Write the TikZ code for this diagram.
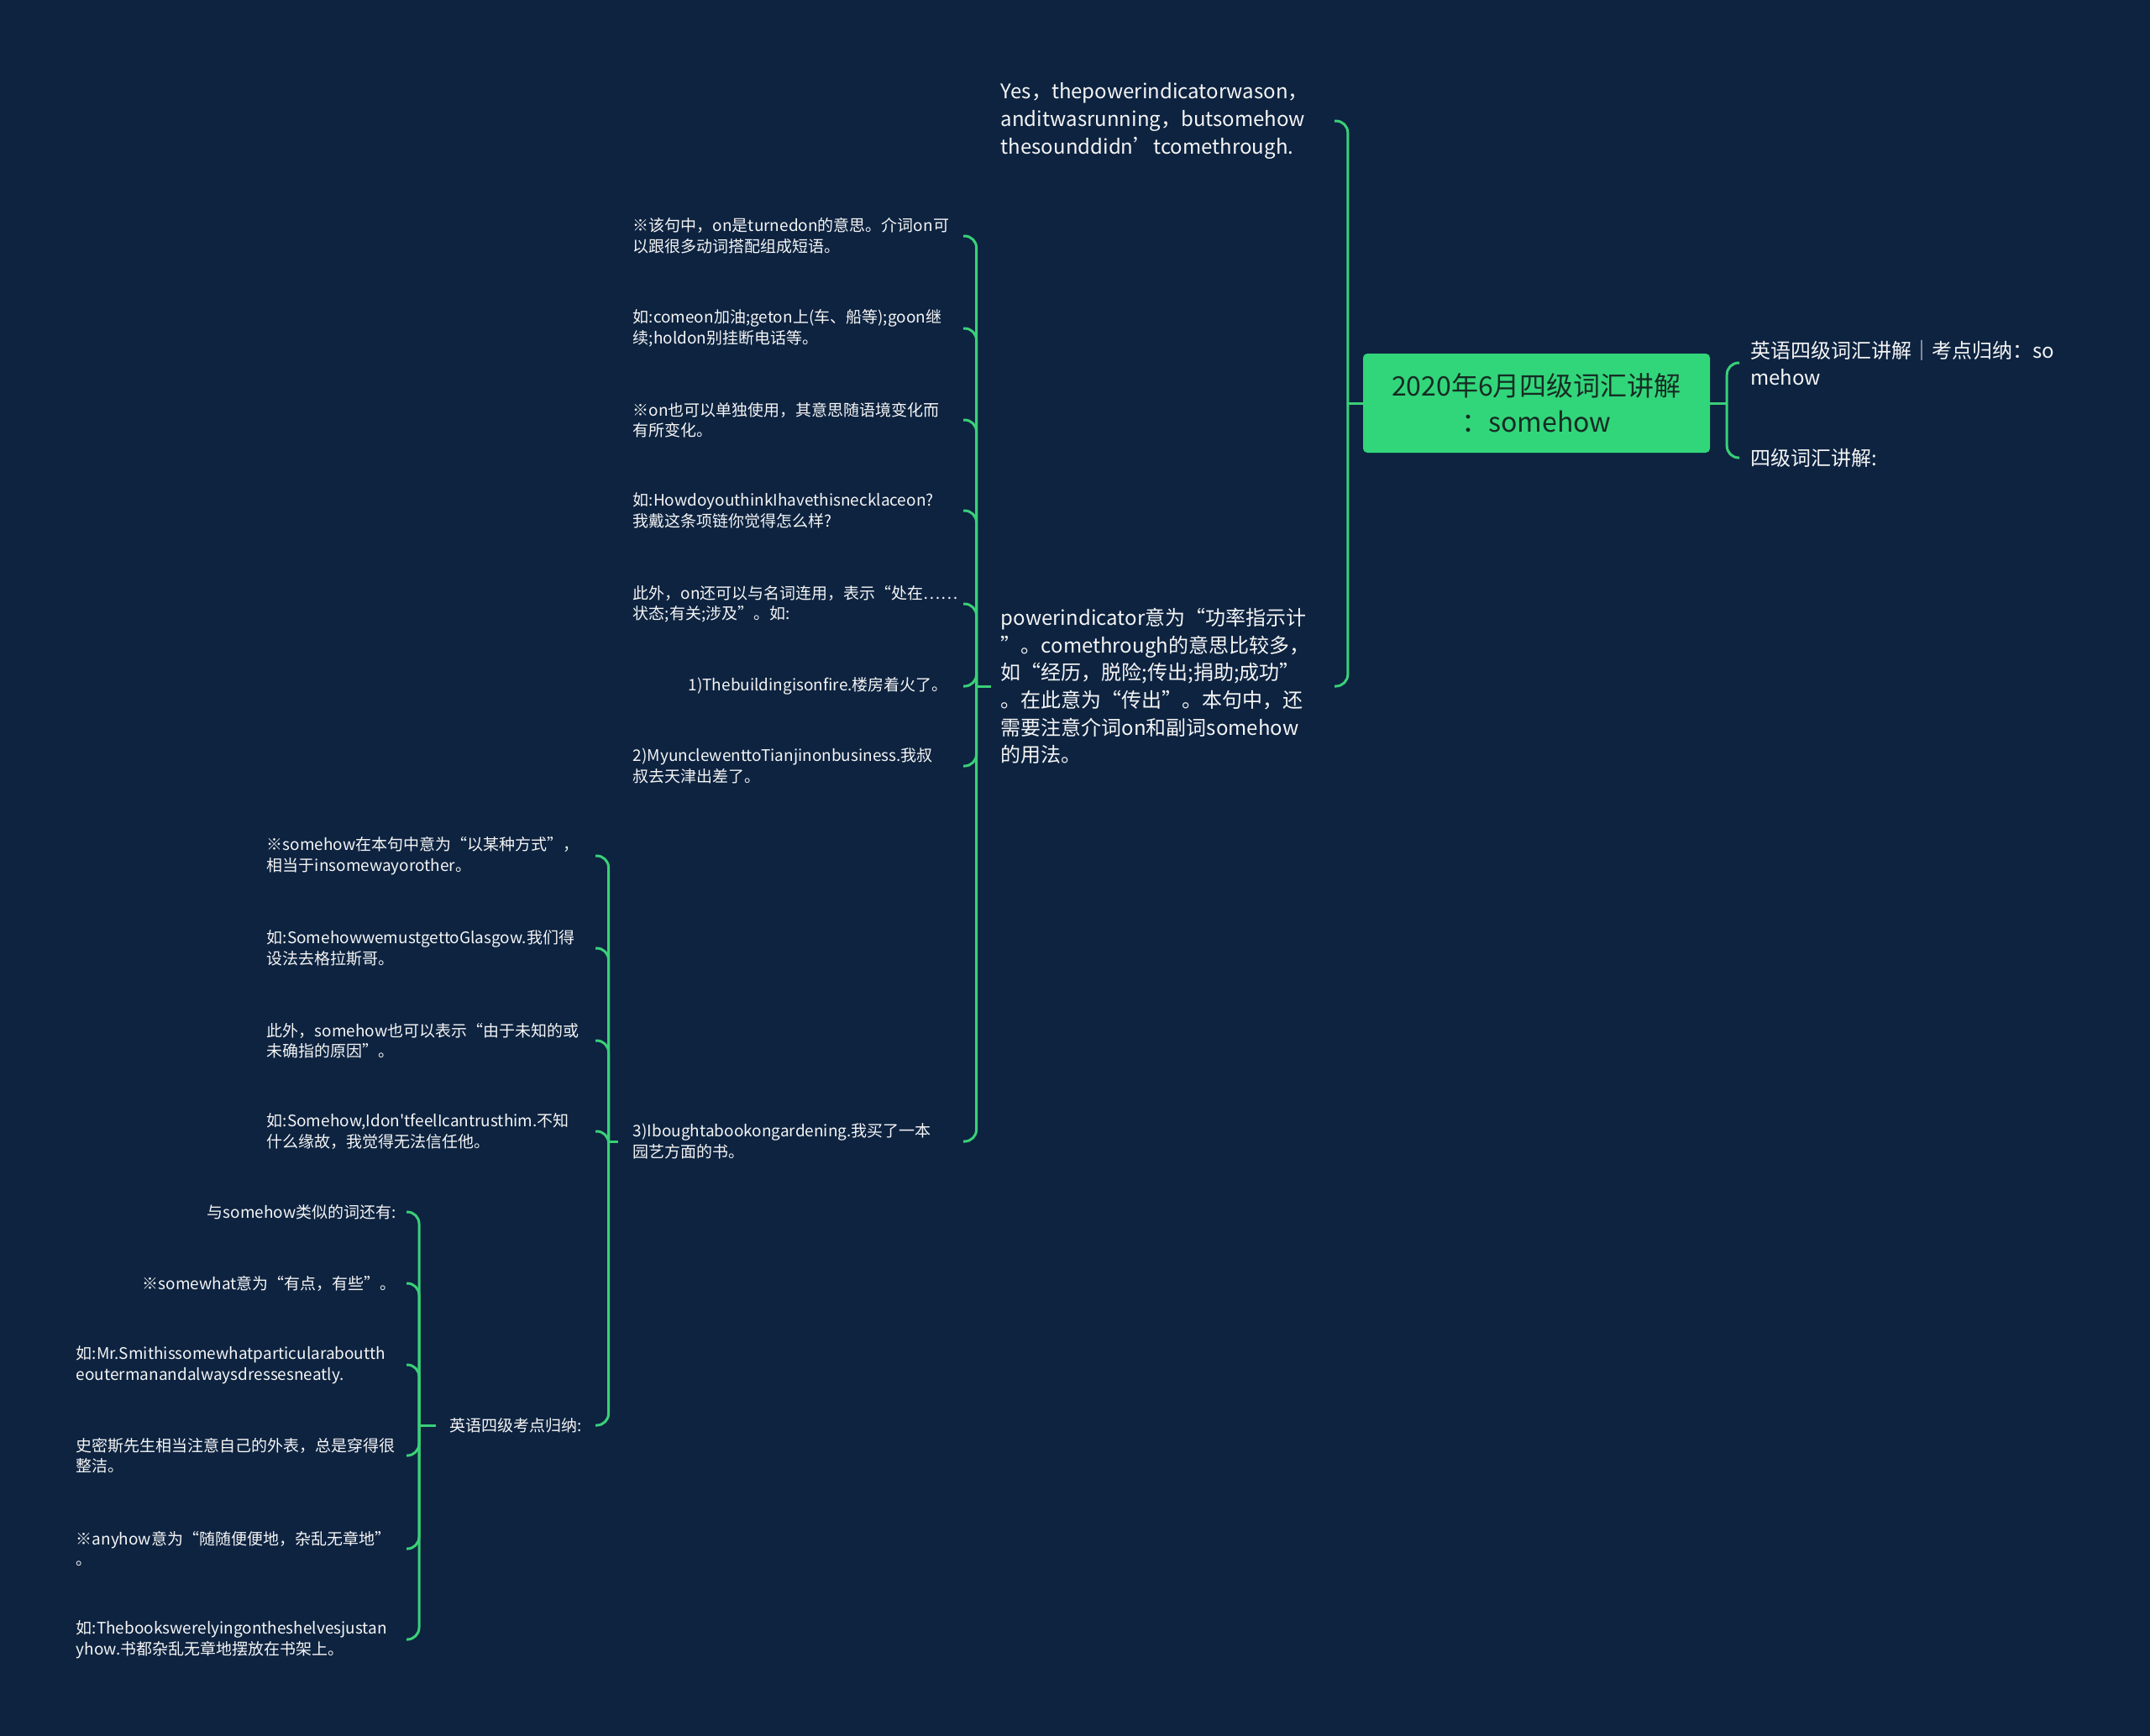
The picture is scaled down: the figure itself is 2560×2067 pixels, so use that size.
\documentclass[tikz,border=0pt]{standalone}
\usepackage{fontspec}
\setmainfont{Noto Sans CJK SC}[Ligatures=TeXOff]
\definecolor{bg}{RGB}{13,35,64}
\definecolor{lnk}{RGB}{58,208,120}
\definecolor{rootg}{RGB}{50,214,122}
\definecolor{roottxt}{RGB}{22,44,36}
\definecolor{txt}{RGB}{245,245,245}
\begin{document}
\begin{tikzpicture}[x=1pt,y=-1pt,
  link/.style={draw=lnk, line width=3pt, rounded corners=14pt},
  rootbox/.style={fill=rootg, rounded corners=5pt, minimum width=413pt, minimum height=118pt, align=center, text=roottxt, font=\fontsize{32}{43}\selectfont, inner sep=0pt},
  midtxt/.style={text=txt, font=\fontsize{24}{32.6}\selectfont, align=left, inner ysep=2pt},
  smtxt/.style={text=txt, font=\fontsize{19}{24.5}\selectfont, align=left, inner ysep=2pt},
  cnode/.style={smtxt, anchor=east, inner xsep=18pt},
  cwide/.style={cnode, text width=375pt},
  dnode/.style={smtxt, anchor=east, inner xsep=16pt},
  dwide/.style={dnode, text width=375pt},
  enode/.style={smtxt, anchor=east, inner xsep=12pt},
  ewide/.style={enode, text width=381pt},
]
\fill[bg] (0,0) rectangle (2560,2067);
\useasboundingbox (0,0) rectangle (2560,2067);

% root
\node[rootbox] (root) at (1829.5,480) {2020年6月四级词汇讲解\\：somehow};

% right children
\node[midtxt, anchor=west, inner xsep=13pt] (r1) at (2071,432) {英语四级词汇讲解｜考点归纳：so\\mehow};
\node[midtxt, anchor=west, inner xsep=13pt] (r2) at (2071,545) {四级词汇讲解:};
\draw[link] (root.east) -- ++(20,0) coordinate (jr);
\draw[link] (jr) |- (r1.west);
\draw[link] (jr) |- (r2.west);

% left level 1
\node[midtxt, anchor=east, text width=385pt, inner xsep=12pt] (l1) at (1589,144) {Yes，thepowerindicatorwason，\\anditwasrunning，butsomehow\\thesounddidn’tcomethrough.};
\node[midtxt, anchor=east, text width=385pt, inner xsep=12pt] (l2) at (1589,817) {powerindicator意为“功率指示计\\”。comethrough的意思比较多，\\如“经历，脱险;传出;捐助;成功”\\。在此意为“传出”。本句中，还\\需要注意介词on和副词somehow\\的用法。};
\draw[link] (root.west) -- ++(-18,0) coordinate (j0);
\draw[link] (j0) |- (l1.east);
\draw[link] (j0) |- (l2.east);

% level 2 (children of l2)
\node[cwide] (c1) at (1147,281) {※该句中，on是turnedon的意思。介词on可\\以跟很多动词搭配组成短语。};
\node[cwide] (c2) at (1147,391) {如:comeon加油;geton上(车、船等);goon继\\续;holdon别挂断电话等。};
\node[cwide] (c3) at (1147,500) {※on也可以单独使用，其意思随语境变化而\\有所变化。};
\node[cwide] (c4) at (1147,608) {如:HowdoyouthinkIhavethisnecklaceon?\\我戴这条项链你觉得怎么样?};
\node[cwide] (c5) at (1147,719) {此外，on还可以与名词连用，表示“处在……\\状态;有关;涉及”。如:};
\node[cnode] (c6) at (1147,817) {1)Thebuildingisonfire.楼房着火了。};
\node[cwide] (c7) at (1147,912) {2)MyunclewenttoTianjinonbusiness.我叔\\叔去天津出差了。};
\node[cwide] (c8) at (1147,1359) {3)Iboughtabookongardening.我买了一本\\园艺方面的书。};
\draw[link] (l2.west) -- ++(-17,0) coordinate (j1);
\foreach \c in {c1,c2,c3,c4,c5,c6,c7,c8} { \draw[link] (j1) |- (\c.east); }

% level 3 (children of c8)
\node[dwide] (d1) at (709,1019) {※somehow在本句中意为“以某种方式”，\\相当于insomewayorother。};
\node[dwide] (d2) at (709,1129) {如:SomehowwemustgettoGlasgow.我们得\\设法去格拉斯哥。};
\node[dwide] (d3) at (709,1239) {此外，somehow也可以表示“由于未知的或\\未确指的原因”。};
\node[dwide] (d4) at (709,1347) {如:Somehow,Idon'tfeelIcantrusthim.不知\\什么缘故，我觉得无法信任他。};
\node[dnode] (d5) at (709,1697) {英语四级考点归纳:};
\draw[link] (c8.west) -- ++(-11,0) coordinate (j2);
\foreach \d in {d1,d2,d3,d4,d5} { \draw[link] (j2) |- (\d.east); }

% level 4 (children of d5)
\node[enode] (e1) at (484,1443) {与somehow类似的词还有:};
\node[enode] (e2) at (484,1528) {※somewhat意为“有点，有些”。};
\node[ewide] (e3) at (484,1625) {如:Mr.Smithissomewhatparticularaboutth\\eoutermanandalwaysdressesneatly.};
\node[ewide] (e4) at (484,1733) {史密斯先生相当注意自己的外表，总是穿得很\\整洁。};
\node[ewide] (e5) at (484,1844) {※anyhow意为“随随便便地，杂乱无章地”\\。};
\node[ewide] (e6) at (484,1952) {如:Thebookswerelyingontheshelvesjustan\\yhow.书都杂乱无章地摆放在书架上。};
\coordinate (x3) at (499,0);
\draw[link] (d5.west) -- (d5.west -| x3) coordinate (j3);
\foreach \e in {e1,e2,e3,e4,e5,e6} { \draw[link] (j3) |- (\e.east); }
\end{tikzpicture}
\end{document}
